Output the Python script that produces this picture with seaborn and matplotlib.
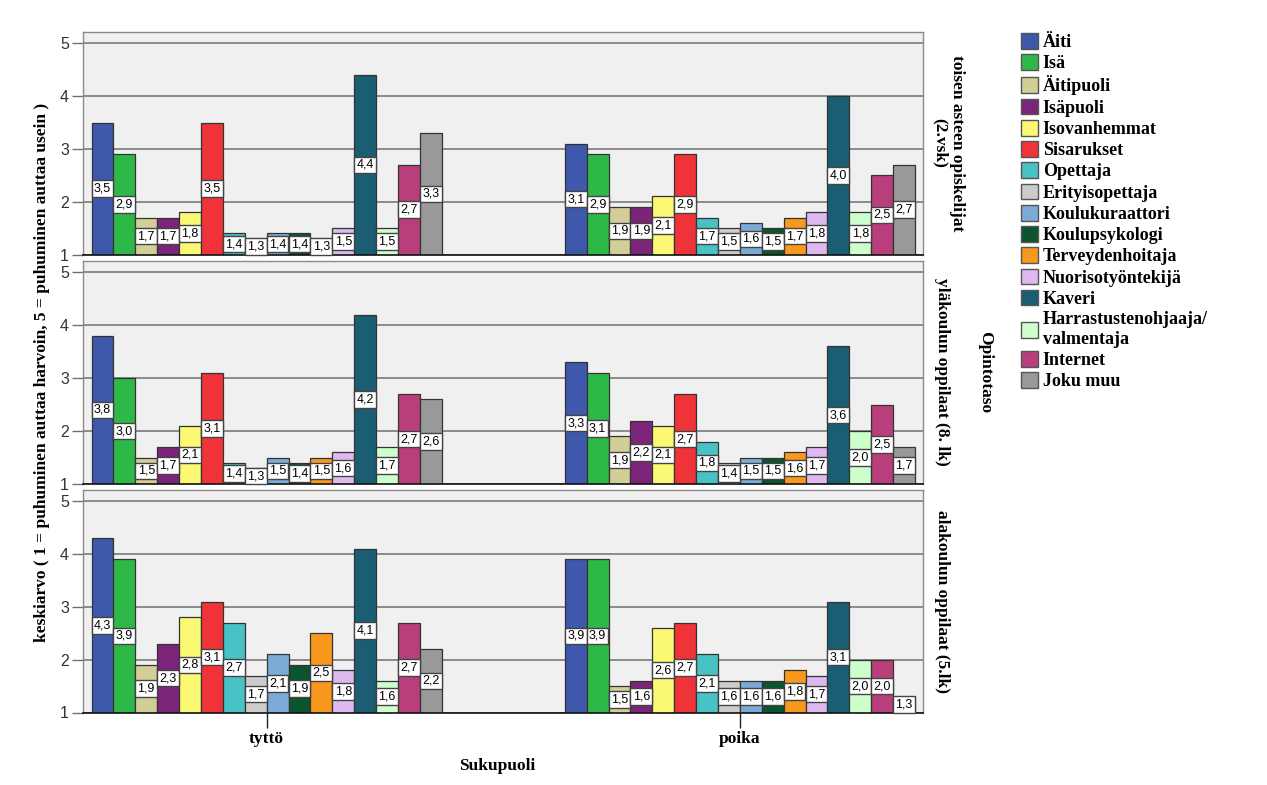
import matplotlib
matplotlib.use("Agg")
import matplotlib.pyplot as plt
from matplotlib.patches import Patch
import seaborn as sns
import pandas as pd

# ---- data ----
series = ["Äiti", "Isä", "Äitipuoli", "Isäpuoli", "Isovanhemmat", "Sisarukset",
          "Opettaja", "Erityisopettaja", "Koulukuraattori", "Koulupsykologi",
          "Terveydenhoitaja", "Nuorisotyöntekijä", "Kaveri",
          "Harrastustenohjaaja/valmentaja", "Internet", "Joku muu"]
legend_labels = ["Äiti", "Isä", "Äitipuoli", "Isäpuoli", "Isovanhemmat", "Sisarukset",
                 "Opettaja", "Erityisopettaja", "Koulukuraattori", "Koulupsykologi",
                 "Terveydenhoitaja", "Nuorisotyöntekijä", "Kaveri",
                 "Harrastustenohjaaja/\nvalmentaja", "Internet", "Joku muu"]
colors = ["#3E58AC", "#2EB848", "#D3CE97", "#7C2479", "#FBF873", "#EF3338",
          "#48C2C5", "#CCCCCC", "#7BAAD6", "#0A552D", "#F8981D", "#DDB9EF",
          "#1B5E74", "#CCFFCC", "#B93E7C", "#999999"]
genders = ["tyttö", "poika"]
levels = ["toisen asteen opiskelijat\n(2.vsk)", "yläkoulun oppilaat (8. lk)",
          "alakoulun oppilaat (5.lk)"]

toinen_tytto = [3.5, 2.9, 1.7, 1.7, 1.8, 3.5, 1.4, 1.3, 1.4, 1.4, 1.3, 1.5, 4.4, 1.5, 2.7, 3.3]
toinen_poika = [3.1, 2.9, 1.9, 1.9, 2.1, 2.9, 1.7, 1.5, 1.6, 1.5, 1.7, 1.8, 4.0, 1.8, 2.5, 2.7]
ylakoulu_tytto = [3.8, 3.0, 1.5, 1.7, 2.1, 3.1, 1.4, 1.3, 1.5, 1.4, 1.5, 1.6, 4.2, 1.7, 2.7, 2.6]
ylakoulu_poika = [3.3, 3.1, 1.9, 2.2, 2.1, 2.7, 1.8, 1.4, 1.5, 1.5, 1.6, 1.7, 3.6, 2.0, 2.5, 1.7]
alakoulu_tytto = [4.3, 3.9, 1.9, 2.3, 2.8, 3.1, 2.7, 1.7, 2.1, 1.9, 2.5, 1.8, 4.1, 1.6, 2.7, 2.2]
alakoulu_poika = [3.9, 3.9, 1.5, 1.6, 2.6, 2.7, 2.1, 1.6, 1.6, 1.6, 1.8, 1.7, 3.1, 2.0, 2.0, 1.3]

panel_data = [(toinen_tytto, toinen_poika),
              (ylakoulu_tytto, ylakoulu_poika),
              (alakoulu_tytto, alakoulu_poika)]

W, H = 1267, 785
fig = plt.figure(figsize=(W / 100, H / 100), dpi=100)
fig.patch.set_facecolor("white")

serif = "Liberation Serif"
left_px, right_px = 83, 923
panel_px = [(31.7, 254.6), (260.7, 484.0), (489.5, 712.5)]
strip_x = [948, 942, 942]

for i, ((t, p), lvl) in enumerate(zip(panel_data, levels)):
    top, bot = panel_px[i]
    ax = fig.add_axes([left_px / W, 1 - bot / H, (right_px - left_px) / W, (bot - top) / H])
    rows = []
    for g, vals in zip(genders, (t, p)):
        for s, v in zip(series, vals):
            rows.append({"Sukupuoli": g, "Kohde": s, "keskiarvo": v})
    df = pd.DataFrame(rows)
    sns.barplot(data=df, x="Sukupuoli", y="keskiarvo", hue="Kohde",
                order=genders, hue_order=series, palette=colors,
                width=0.74, edgecolor="#333333", linewidth=0.9,
                errorbar=None, legend=False, ax=ax, zorder=2, saturation=1)
    ax.set_facecolor("#F0F0F0")
    ax.set_axisbelow(True)
    ax.set_ylim(1, 5.22)
    ax.set_xlim(-0.388, 1.387)
    ax.set_yticks([1, 2, 3, 4, 5])
    ax.set_yticklabels(["1", "2", "3", "4", "5"], fontfamily="Liberation Sans",
                       fontsize=11.5, color="#333333")
    ax.yaxis.grid(True, color="#707070", linewidth=1.1)
    ax.xaxis.grid(False)
    ax.tick_params(axis="y", length=8, width=1, color="#707070", pad=2, direction="out")
    for sp in ["top", "right", "left"]:
        ax.spines[sp].set_color("#8a8a8a")
        ax.spines[sp].set_linewidth(1)
    ax.spines["bottom"].set_color("#111111")
    ax.spines["bottom"].set_linewidth(1.2)
    ax.set_xlabel("")
    ax.set_ylabel("")
    if i < 2:
        ax.set_xticks([])
    else:
        ax.set_xticks([0, 1])
        ax.set_xticklabels(genders, fontfamily=serif, fontweight="bold", fontsize=12.5)
        ax.tick_params(axis="x", length=11, width=1, color="#222222", pad=2)
    # value labels
    for bar in ax.patches:
        h = bar.get_height()
        if h <= 0:
            continue
        xc = bar.get_x() + bar.get_width() / 2
        ax.text(xc, (1 + h) / 2, f"{h:.1f}".replace(".", ","),
                ha="center", va="center", fontsize=9, fontfamily="Liberation Sans",
                color="black", zorder=5,
                bbox=dict(boxstyle="square,pad=0.18", facecolor="white",
                          edgecolor="#444444", linewidth=1))
    # strip label
    cy = 1 - ((top + bot) / 2) / H
    fig.text(strip_x[i] / W, cy, lvl, rotation=-90, ha="center", va="center",
             fontfamily=serif, fontweight="bold", fontsize=12.5, linespacing=1.1)

fig.text(985 / W, 1 - 372 / H, "Opintotaso", rotation=-90, ha="center", va="center",
         fontfamily=serif, fontweight="bold", fontsize=12.5)
fig.text(42 / W, 1 - 372 / H,
         "keskiarvo ( 1 = puhuminen auttaa harvoin, 5 = puhuminen auttaa usein )",
         rotation=90, ha="center", va="center",
         fontfamily=serif, fontweight="bold", fontsize=12.5)
fig.text(497 / W, 1 - 766 / H, "Sukupuoli", ha="center", va="center",
         fontfamily=serif, fontweight="bold", fontsize=12.5)

handles = [Patch(facecolor=c, edgecolor="#555555", linewidth=1) for c in colors]
fig.legend(handles, legend_labels, loc="upper left",
           bbox_to_anchor=(1021 / W, 1 - 33 / H), frameon=False,
           borderaxespad=0, borderpad=0, handlelength=0.95, handleheight=0.95,
           handletextpad=0.25, labelspacing=0.18,
           prop={"family": serif, "weight": "bold", "size": 13})

fig.savefig("out.png", dpi=100)
